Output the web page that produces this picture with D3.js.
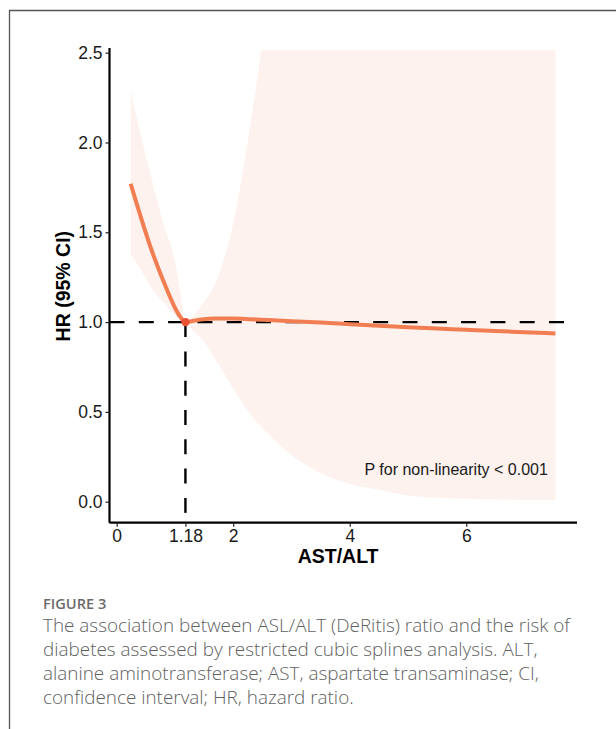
<!DOCTYPE html>
<html>
<head>
<meta charset="utf-8">
<script src="https://cdn.jsdelivr.net/npm/d3@7"></script>
<style>
  html, body { margin: 0; padding: 0; background: #fff; }
  svg { display: block; }
</style>
</head>
<body>
<svg id="chart"></svg>
<script>
// AST/ALT ratio values along the spline
const ratio = [0.24, 0.4, 0.6, 0.8, 1.0, 1.1, 1.18, 1.3, 1.45, 1.7, 2.0, 2.3, 2.6, 3.0, 3.5, 4.0, 4.5, 5.0, 5.5, 6.0, 6.5, 7.0, 7.53];
const hr    = [1.77, 1.60, 1.40, 1.23, 1.08, 1.025, 1.0, 1.006, 1.014, 1.02, 1.02, 1.016, 1.011, 1.005, 0.997, 0.988, 0.979, 0.971, 0.964, 0.957, 0.950, 0.944, 0.937];
const lower = [1.38, 1.30, 1.19, 1.11, 1.04, 1.01, 1.0, 0.955, 0.91, 0.79, 0.63, 0.485, 0.38, 0.26, 0.16, 0.10, 0.066, 0.035, 0.022, 0.016, 0.012, 0.01, 0.01];
const upper = [2.29, 2.06, 1.80, 1.55, 1.34, 1.15, 1.0, 1.03, 1.09, 1.22, 1.55, 2.11, 2.80, 3.9, 4.5, 4.5, 4.5, 4.5, 4.5, 4.5, 4.5, 4.5, 4.5];

const refRatio = 1.18;
const refHR = 1.0;
const yTicks = [0, 0.5, 1.0, 1.5, 2.0, 2.5];
const xTicks = [0, 1.18, 2, 4, 6];
const pText = "P for non-linearity < 0.001";
const figLabel = "FIGURE 3";
const caption = [
  "The association between ASL/ALT (DeRitis) ratio and the risk of",
  "diabetes assessed by restricted cubic splines analysis. ALT,",
  "alanine aminotransferase; AST, aspartate transaminase; CI,",
  "confidence interval; HR, hazard ratio."
];

const width = 616, height = 729;
const svg = d3.select("#chart").attr("width", width).attr("height", height);

const panel = {left: 109.5, right: 577, top: 48, bottom: 522.7};

const x = d3.scaleLinear().domain([-0.123, 7.9]).range([panel.left, panel.right]);
const y = d3.scaleLinear().domain([-0.117, 2.526]).range([panel.bottom, panel.top]);

const data = ratio.map((r, i) => ({r: r, hr: hr[i], lo: lower[i], hi: upper[i]}));

// frame of the figure page
svg.append("line").attr("x1", 9).attr("x2", width).attr("y1", 10.5).attr("y2", 10.5)
  .attr("stroke", "#555").attr("stroke-width", 1.3);
svg.append("line").attr("x1", 9.5).attr("x2", 9.5).attr("y1", 10).attr("y2", height)
  .attr("stroke", "#555").attr("stroke-width", 1.3);

svg.append("clipPath").attr("id", "clip")
  .append("rect")
  .attr("x", panel.left).attr("y", panel.top + 2)
  .attr("width", panel.right - panel.left).attr("height", panel.bottom - panel.top);

const area = d3.area()
  .x(d => x(d.r))
  .y0(d => y(d.lo))
  .y1(d => y(d.hi))
  .curve(d3.curveMonotoneX);

svg.append("path")
  .datum(data)
  .attr("clip-path", "url(#clip)")
  .attr("fill", "#fdf2ee")
  .attr("d", area);

// reference lines
svg.append("line")
  .attr("x1", panel.left).attr("x2", x(7.75))
  .attr("y1", y(refHR)).attr("y2", y(refHR))
  .attr("stroke", "#000").attr("stroke-width", 2.4)
  .attr("stroke-dasharray", "15,14.3");
svg.append("line")
  .attr("x1", x(refRatio)).attr("x2", x(refRatio))
  .attr("y1", y(refHR)).attr("y2", y(-0.065))
  .attr("stroke", "#000").attr("stroke-width", 2.4)
  .attr("stroke-dasharray", "15,14.3");

const line = d3.line()
  .x(d => x(d.r))
  .y(d => y(d.hr))
  .curve(d3.curveMonotoneX);

svg.append("path")
  .datum(data)
  .attr("fill", "none")
  .attr("stroke", "#f07e52")
  .attr("stroke-width", 4)
  .attr("d", line);

svg.append("circle")
  .attr("cx", x(refRatio)).attr("cy", y(refHR))
  .attr("r", 4.2)
  .attr("fill", "#ea5233");

// axes
const yAxis = svg.append("g")
  .attr("transform", `translate(${panel.left},0)`)
  .call(d3.axisLeft(y).tickValues(yTicks).tickFormat(d3.format(".1f")).tickSize(4).tickPadding(3));
const xAxis = svg.append("g")
  .attr("transform", `translate(0,${panel.bottom})`)
  .call(d3.axisBottom(x).tickValues(xTicks).tickFormat(d => d).tickSize(4).tickPadding(3));

[yAxis, xAxis].forEach(g => {
  g.select(".domain").attr("stroke", "#000").attr("stroke-width", 2.2);
  g.selectAll(".tick line").attr("stroke", "#222").attr("stroke-width", 1.2);
  g.selectAll(".tick text")
    .attr("fill", "#1a1a1a")
    .style("font-family", "'Liberation Sans', Arial, sans-serif")
    .style("font-size", "17.5px");
});
yAxis.select(".domain").attr("d", `M0,${panel.top}V${panel.bottom}`);
xAxis.select(".domain").attr("d", `M${panel.left},0H${panel.right}`);

svg.append("text")
  .attr("x", x(3.8)).attr("y", 563)
  .attr("text-anchor", "middle")
  .style("font-family", "'Liberation Sans', Arial, sans-serif")
  .style("font-size", "19.5px").style("font-weight", "bold")
  .text("AST/ALT");

svg.append("text")
  .attr("transform", `translate(70,${y(1.2)}) rotate(-90)`)
  .attr("text-anchor", "middle")
  .style("font-family", "'Liberation Sans', Arial, sans-serif")
  .style("font-size", "19.5px").style("font-weight", "bold")
  .text("HR (95% CI)");

svg.append("text")
  .attr("x", x(7.4)).attr("y", y(0.15))
  .attr("text-anchor", "end")
  .attr("fill", "#1a1a1a")
  .style("font-family", "'Liberation Sans', Arial, sans-serif")
  .style("font-size", "16px")
  .text(pText);

// caption
svg.append("text")
  .attr("x", 43).attr("y", 609)
  .attr("fill", "#6b6b6b")
  .style("font-family", "'Open Sans', sans-serif")
  .style("font-size", "14.6px").style("font-weight", 600)
  .text(figLabel);

svg.append("g").selectAll("text")
  .data(caption)
  .join("text")
  .attr("x", 43)
  .attr("y", (d, i) => 632 + i * 24)
  .attr("fill", "#5f5f5f")
  .style("font-family", "'Open Sans', sans-serif")
  .style("font-size", "18.9px").style("font-weight", 300)
  .text(d => d);
</script>
</body>
</html>
